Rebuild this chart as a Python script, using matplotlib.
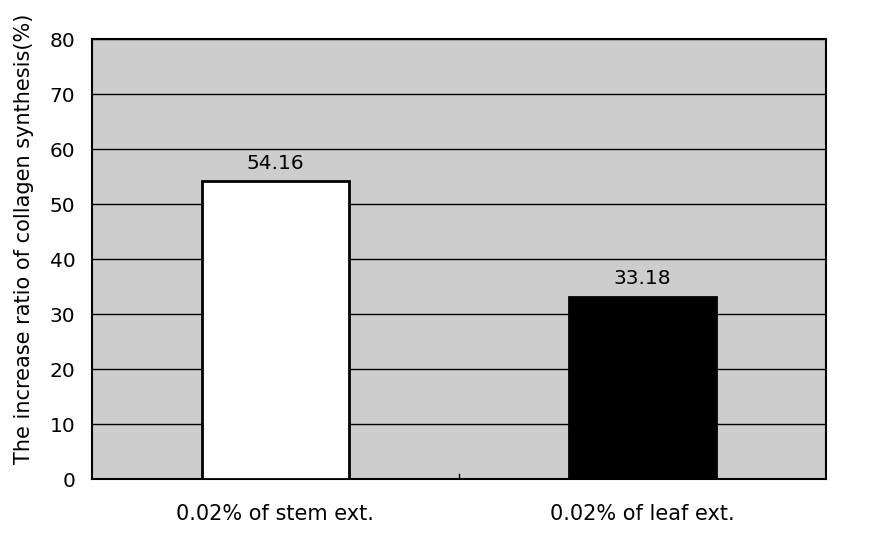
import matplotlib.pyplot as plt

categories = ['0.02% of stem ext.', '0.02% of leaf ext.']
values = [54.16, 33.18]
bar_colors = ['white', 'black']
y_ticks = [0, 10, 20, 30, 40, 50, 60, 70, 80]

plt.rcParams['font.family'] = ['DejaVu Sans']

fig = plt.figure(figsize=(8.71, 5.47), dpi=100)
ax = fig.add_axes([0.1056, 0.1243, 0.8424, 0.8044])
ax.set_facecolor('#cdcdcd')

x = [0, 1]
bars = ax.bar(x, values, width=0.4, color=bar_colors, edgecolor='black',
              linewidth=2, zorder=3)
for b, v in zip(bars, values):
    ax.text(b.get_x() + b.get_width() / 2, v + 1.5, f'{v:.2f}',
            ha='center', va='bottom', fontsize=14.5, zorder=4)

ax.set_xlim(-0.5, 1.5)
ax.set_ylim(0, 80)
ax.set_yticks(y_ticks)
ax.set_yticklabels([str(t) for t in y_ticks], fontsize=14.5)
ax.yaxis.grid(True, color='black', linewidth=1)
ax.set_axisbelow(True)
ax.tick_params(axis='y', length=0, pad=12)

ax.set_xticks(x)
ax.set_xticklabels(categories, fontsize=15)
ax.tick_params(axis='x', length=0, pad=18)
ax.axvline(0.5, ymin=0, ymax=0.012, color='black', linewidth=1)

for s in ax.spines.values():
    s.set_linewidth(1.5)
    s.set_color('black')

ax.set_ylabel('The increase ratio of collagen synthesis(%)', fontsize=15,
              labelpad=11, y=0.545)

fig.savefig('out.png', dpi=100)
